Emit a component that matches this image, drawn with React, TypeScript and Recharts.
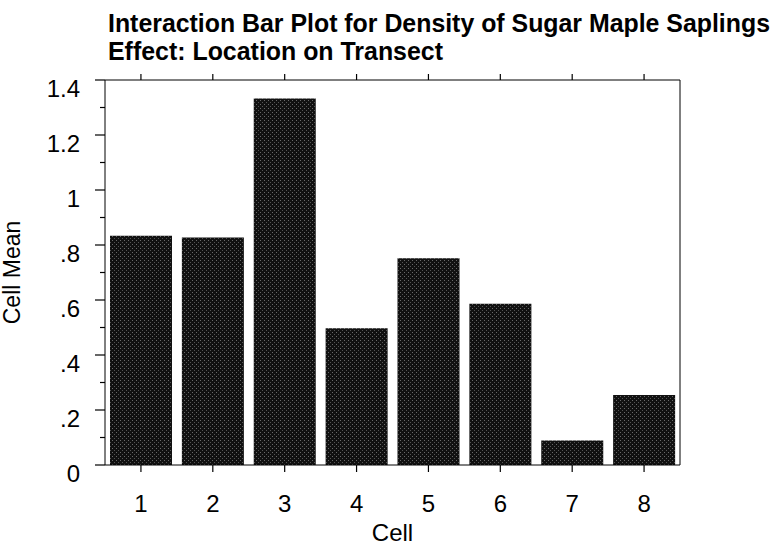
import { Bar, BarChart, Label, XAxis, YAxis } from 'recharts';

const CELLS = ['1', '2', '3', '4', '5', '6', '7', '8'];
const CELL_MEANS = [0.834, 0.827, 1.333, 0.497, 0.752, 0.586, 0.089, 0.255];
const Y_TICKS = [0, 0.1, 0.2, 0.3, 0.4, 0.5, 0.6, 0.7, 0.8, 0.9, 1, 1.1, 1.2, 1.3, 1.4];
const MAJOR_LABELS: Record<string, string> = {
  '0': '0',
  '0.2': '.2',
  '0.4': '.4',
  '0.6': '.6',
  '0.8': '.8',
  '1': '1',
  '1.2': '1.2',
  '1.4': '1.4',
};

const data = CELLS.map((cell, i) => ({ cell, mean: CELL_MEANS[i] }));

const W = 775;
const H = 545;
const LEFT = 105;
const RIGHT = 680;
const FONT = '"Liberation Sans", Arial, Helvetica, sans-serif';

const labelFor = (v: number) => MAJOR_LABELS[String(Math.round(v * 10) / 10)];

// Left axis: outward ticks, long at every .2, short in between, with labels.
function LeftTick(props: any) {
  const { y, payload } = props;
  const label = labelFor(payload.value as number);
  const major = label !== undefined;
  return (
    <g>
      <line x1={LEFT - (major ? 10 : 5)} x2={LEFT} y1={y} y2={y} stroke="#000" strokeWidth={1.2} />
      {major && (
        <text
          x={LEFT - 25}
          y={y + 8}
          textAnchor="end"
          dominantBaseline="central"
          fontFamily={FONT}
          fontSize={24}
          fill="#000"
        >
          {label}
        </text>
      )}
    </g>
  );
}

function RightTick(props: any) {
  const { y, payload } = props;
  const major = labelFor(payload.value as number) !== undefined;
  return <line x1={RIGHT} x2={RIGHT + (major ? 12 : 6)} y1={y} y2={y} stroke="#000" strokeWidth={1.2} />;
}

function BottomTick(props: any) {
  const { x, payload } = props;
  return (
    <g>
      <line x1={x} x2={x} y1={465} y2={472} stroke="#000" strokeWidth={1.2} />
      <text x={x} y={512} textAnchor="middle" fontFamily={FONT} fontSize={24} fill="#000">
        {payload.value}
      </text>
    </g>
  );
}

function TopTick(props: any) {
  const { x } = props;
  return <line x1={x} x2={x} y1={80} y2={74} stroke="#000" strokeWidth={1.2} />;
}

export default function App() {
  return (
    <div style={{ position: 'absolute', left: 0, top: 0, width: W, height: H, background: '#fff' }}>
      <svg
        width={W}
        height={90}
        style={{ position: 'absolute', left: 0, top: 0, pointerEvents: 'none' }}
      >
        <text
          x={108}
          y={32}
          fontFamily={FONT}
          fontWeight="bold"
          fontSize={25}
          textLength={662}
          lengthAdjust="spacingAndGlyphs"
          fill="#000"
        >
          Interaction Bar Plot for Density of Sugar Maple Saplings
        </text>
        <text
          x={108}
          y={60}
          fontFamily={FONT}
          fontWeight="bold"
          fontSize={25}
          textLength={335}
          lengthAdjust="spacingAndGlyphs"
          fill="#000"
        >
          Effect: Location on Transect
        </text>
      </svg>
      <BarChart
        width={W}
        height={H}
        data={data}
        margin={{ top: 70, right: 75, bottom: 0, left: 0 }}
        barSize={62}
      >
        <defs>
          <pattern id="speckle" width="4" height="4" patternUnits="userSpaceOnUse">
            <rect width="4" height="4" fill="#111" />
            <rect x="0" y="0" width="1" height="1" fill="#6a6a6a" />
            <rect x="2" y="2" width="1" height="1" fill="#555" />
          </pattern>
        </defs>
        <XAxis
          dataKey="cell"
          xAxisId="bottom"
          height={80}
          stroke="#000"
          tickLine={false}
          tick={<BottomTick />}
          interval={0}
        >
          <Label
            value="Cell"
            position="insideBottom"
            offset={4}
            style={{ fontFamily: FONT, fontSize: 24, fill: '#000' }}
          />
        </XAxis>
        <XAxis
          dataKey="cell"
          xAxisId="top"
          orientation="top"
          height={10}
          stroke="#000"
          tickLine={false}
          tick={<TopTick />}
          interval={0}
        />
        <YAxis
          yAxisId="left"
          width={LEFT}
          domain={[0, 1.4]}
          ticks={Y_TICKS}
          interval={0}
          stroke="#000"
          tickLine={false}
          tick={<LeftTick />}
        >
          <Label
            value="Cell Mean"
            angle={-90}
            position="insideLeft"
            offset={12}
            style={{ fontFamily: FONT, fontSize: 23, fill: '#000', textAnchor: 'middle' }}
          />
        </YAxis>
        <YAxis
          yAxisId="right"
          orientation="right"
          width={20}
          domain={[0, 1.4]}
          ticks={Y_TICKS}
          interval={0}
          stroke="#000"
          tickLine={false}
          tick={<RightTick />}
        />
        <Bar
          dataKey="mean"
          xAxisId="bottom"
          yAxisId="left"
          fill="url(#speckle)"
          isAnimationActive={false}
        />
      </BarChart>
    </div>
  );
}
